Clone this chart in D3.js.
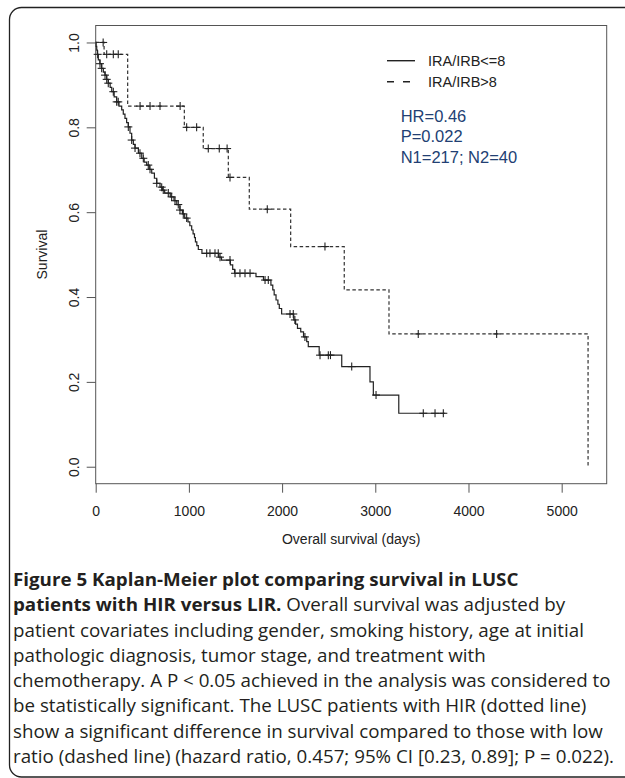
<!DOCTYPE html>
<html>
<head>
<meta charset="utf-8">
<script src="https://cdn.jsdelivr.net/npm/d3@7"></script>
<style>
body { margin: 0; background: #fff; }
svg { display: block; }
</style>
</head>
<body>
<svg id="chart" width="625" height="778"></svg>
<script>
// IRA/IRB<=8 group (solid line), step times in days and survival after each step
var lowTimes = [0, 5, 11, 18, 28, 45, 64, 82, 100, 118, 135, 155, 172, 198, 225, 250, 279, 296, 314, 332, 350, 368, 386, 404, 422, 458, 494, 520, 547, 575, 601, 630, 655, 690, 715, 740, 800, 840, 870, 904, 930, 955, 990, 1010, 1030, 1045, 1060, 1070, 1085, 1101, 1140, 1320, 1350, 1445, 1470, 1490, 1720, 1800, 1880, 1900, 1915, 1935, 1955, 1970, 1995, 2125, 2145, 2165, 2200, 2230, 2264, 2281, 2398, 2640, 2943, 2979, 3252, 3750];
var lowSurv = [1, 0.991, 0.982, 0.972, 0.959, 0.950, 0.939, 0.930, 0.923, 0.913, 0.904, 0.894, 0.884, 0.872, 0.860, 0.850, 0.841, 0.831, 0.821, 0.811, 0.801, 0.786, 0.770, 0.760, 0.751, 0.739, 0.727, 0.718, 0.711, 0.701, 0.692, 0.680, 0.668, 0.659, 0.652, 0.645, 0.636, 0.627, 0.618, 0.605, 0.596, 0.586, 0.577, 0.568, 0.558, 0.549, 0.540, 0.530, 0.521, 0.512, 0.503, 0.494, 0.487, 0.476, 0.465, 0.456, 0.448, 0.440, 0.428, 0.417, 0.405, 0.393, 0.383, 0.373, 0.360, 0.346, 0.336, 0.326, 0.318, 0.306, 0.295, 0.283, 0.263, 0.236, 0.200, 0.169, 0.126, 0.126];
var lowCensor = [21, 46, 64, 100, 118, 135, 189, 225, 242, 350, 386, 422, 475, 511, 564, 583, 655, 708, 725, 779, 815, 851, 886, 904, 940, 976, 1191, 1226, 1280, 1315, 1334, 1441, 1495, 1548, 1602, 1656, 1817, 1852, 2085, 2120, 2137, 2245, 2407, 2496, 2519, 2747, 3008, 3515, 3641, 3730];

// IRA/IRB>8 group (dashed line)
var highTimes = [0, 90, 343, 951, 1154, 1423, 1648, 2092, 2667, 3147, 5283];
var highSurv = [1, 0.972, 0.850, 0.800, 0.750, 0.682, 0.607, 0.519, 0.417, 0.313, 0];
var highCensor = [80, 118, 189, 242, 476, 583, 690, 906, 976, 1083, 1208, 1326, 1410, 1441, 1841, 2460, 3461, 4302];

var xTicks = [0, 1000, 2000, 3000, 4000, 5000];
var yTicks = [0, 0.2, 0.4, 0.6, 0.8, 1.0];
var legendLabels = ["IRA/IRB<=8", "IRA/IRB>8"];
var statLines = ["HR=0.46", "P=0.022", "N1=217; N2=40"];
var captionLines = [
  [["Figure 5 Kaplan-Meier plot comparing survival in LUSC", true]],
  [["patients with HIR versus LIR.", true], [" Overall survival was adjusted by", false]],
  [["patient covariates including gender, smoking history, age at initial", false]],
  [["pathologic diagnosis, tumor stage, and treatment with", false]],
  [["chemotherapy. A P < 0.05 achieved in the analysis was considered to", false]],
  [["be statistically significant. The LUSC patients with HIR (dotted line)", false]],
  [["show a significant difference in survival compared to those with low", false]],
  [["ratio (dashed line) (hazard ratio, 0.457; 95% CI [0.23, 0.89]; P = 0.022).", false]]
];

var svg = d3.select("#chart");
var axisFont = "'Liberation Sans', Arial, sans-serif";

// outer figure frame, only left side visible
svg.append("path")
  .attr("d", "M 625 7.5 H 21.5 A 12 12 0 0 0 9.5 19.5 V 765 A 12 12 0 0 0 21.5 777 H 625")
  .attr("fill", "none").attr("stroke", "#222").attr("stroke-width", 1.3);

var x = d3.scaleLinear().domain([0, 5483]).range([95.7, 606.7]);
var y = d3.scaleLinear().domain([-0.04, 1.04]).range([483.7, 25.5]);

// plot box
svg.append("rect")
  .attr("x", x(0)).attr("y", y(1.04))
  .attr("width", x(5483) - x(0)).attr("height", y(-0.04) - y(1.04))
  .attr("fill", "none").attr("stroke", "#555").attr("stroke-width", 1);

////////////////////////////////////// axes
var yAxis = svg.append("g").attr("transform", "translate(" + x(0) + ",0)")
  .call(d3.axisLeft(y).tickValues(yTicks).tickSize(9).tickFormat(d3.format(".1f")));
yAxis.select(".domain").remove();
yAxis.selectAll("line").attr("stroke", "#555");
yAxis.selectAll("text")
  .attr("x", null).attr("dy", null)
  .attr("transform", "translate(-17.2,0) rotate(-90)")
  .attr("text-anchor", "middle")
  .style("font-family", axisFont).style("font-size", "14px").style("fill", "#222");

var xAxis = svg.append("g").attr("transform", "translate(0," + y(-0.04) + ")")
  .call(d3.axisBottom(x).tickValues(xTicks).tickSize(9).tickFormat(d3.format("d")));
xAxis.select(".domain").remove();
xAxis.selectAll("line").attr("stroke", "#555");
xAxis.selectAll("text")
  .attr("y", 32.8).attr("dy", null)
  .style("font-family", axisFont).style("font-size", "14px").style("fill", "#222");

svg.append("text")
  .attr("x", (x(0) + x(5483)) / 2).attr("y", 544)
  .attr("text-anchor", "middle")
  .style("font-family", axisFont).style("font-size", "14px").style("fill", "#222")
  .text("Overall survival (days)");

svg.append("g").attr("transform", "translate(47," + y(0.5) + ")")
  .append("text").attr("text-anchor", "middle").attr("transform", "rotate(-90)")
  .style("font-family", axisFont).style("font-size", "14px").style("fill", "#222")
  .text("Survival");

////////////////////////////////////// curves
function stepPoints(times, surv) {
  return times.map(function(t, i) { return [t, surv[i]]; });
}
function survAt(times, surv, t) {
  var i = d3.bisectRight(times, t) - 1;
  return surv[Math.max(i, 0)];
}
var line = d3.line()
  .x(function(d) { return x(d[0]); })
  .y(function(d) { return y(d[1]); })
  .curve(d3.curveStepAfter);

svg.append("path").datum(stepPoints(highTimes, highSurv))
  .attr("d", line).attr("fill", "none")
  .attr("stroke", "#333").attr("stroke-width", 1.2).attr("stroke-dasharray", "3.5,2.5");

svg.append("path").datum(stepPoints(lowTimes, lowSurv))
  .attr("d", line).attr("fill", "none")
  .attr("stroke", "#222").attr("stroke-width", 1.2);

function drawCensor(times, surv, marks) {
  var g = svg.append("g").attr("stroke", "#222").attr("stroke-width", 1.1);
  marks.forEach(function(t) {
    var cx = x(t), cy = y(survAt(times, surv, t));
    g.append("line").attr("x1", cx - 4).attr("x2", cx + 4).attr("y1", cy).attr("y2", cy);
    g.append("line").attr("x1", cx).attr("x2", cx).attr("y1", cy - 4).attr("y2", cy + 4);
  });
}
drawCensor(highTimes, highSurv, highCensor);
drawCensor(lowTimes, lowSurv, lowCensor);

////////////////////////////////////// legend + stats
var legend = svg.append("g");
legend.append("line").attr("x1", 387).attr("x2", 415).attr("y1", 60.7).attr("y2", 60.7)
  .attr("stroke", "#222").attr("stroke-width", 1.4);
legend.append("line").attr("x1", 387).attr("x2", 410).attr("y1", 81.7).attr("y2", 81.7)
  .attr("stroke", "#222").attr("stroke-width", 1.4).attr("stroke-dasharray", "7,9");
legend.selectAll("text.leg").data(legendLabels).enter().append("text")
  .attr("class", "leg")
  .attr("x", 428).attr("y", function(d, i) { return 66 + i * 21.3; })
  .style("font-family", axisFont).style("font-size", "14.5px").style("fill", "#222")
  .text(function(d) { return d; });

svg.selectAll("text.stat").data(statLines).enter().append("text")
  .attr("class", "stat")
  .attr("x", 400.7).attr("y", function(d, i) { return 121.7 + i * 20.5; })
  .style("font-family", axisFont).style("font-size", "16.5px").style("fill", "#223f73")
  .text(function(d) { return d; });

////////////////////////////////////// caption
var cap = svg.append("g");
captionLines.forEach(function(parts, i) {
  var t = cap.append("text").attr("x", 0).attr("y", 586 + i * 25.3)
    .style("font-family", "'Open Sans', 'Noto Sans', sans-serif").style("font-size", "18px").style("fill", "#231f20");
  parts.forEach(function(p) {
    t.append("tspan").attr("font-weight", p[1] ? "bold" : "normal").text(p[0]);
  });
});
// squeeze to the width of the widest line in the figure
var w = cap.selectAll("text").nodes()[4].getComputedTextLength();
cap.attr("transform", "translate(13,0) scale(" + (598 / w) + ",1)");
</script>
</body>
</html>
